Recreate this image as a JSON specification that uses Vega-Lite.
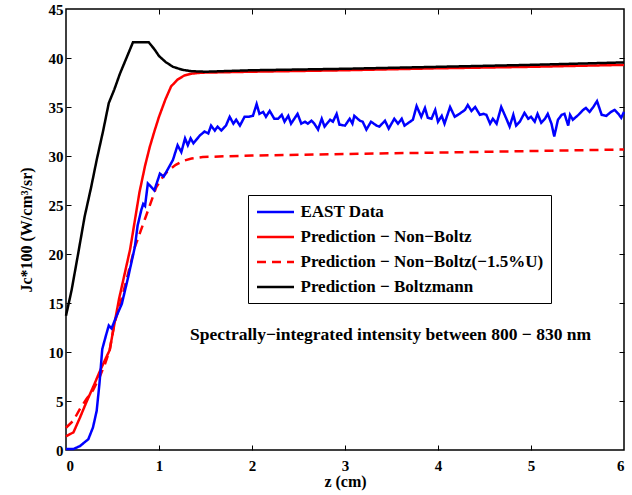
{
  "$schema": "https://vega.github.io/schema/vega-lite/v6.json",
  "width": 558,
  "height": 441,
  "autosize": {"type": "none"},
  "padding": {"left": 66, "top": 9, "right": 8, "bottom": 45},
  "background": "white",
  "config": {
    "view": {"stroke": "black", "strokeWidth": 1.5},
    "font": "Liberation Serif",
    "axis": {
      "domain": false,
      "grid": false,
      "tickColor": "black",
      "tickWidth": 1,
      "labelFont": "Liberation Serif",
      "labelFontSize": 15,
      "labelFontWeight": "bold",
      "labelColor": "black",
      "titleFont": "Liberation Serif",
      "titleFontSize": 16,
      "titleFontWeight": "bold",
      "titleColor": "black"
    },
    "legend": {
      "strokeColor": "black",
      "fillColor": "white",
      "padding": 7.5,
      "cornerRadius": 0,
      "labelFont": "Liberation Serif",
      "labelFontSize": 17,
      "labelFontWeight": "bold",
      "labelColor": "black",
      "labelLimit": 400,
      "symbolType": "M-1,0H3.625",
      "symbolSize": 256,
      "symbolStrokeWidth": 2.5,
      "labelOffset": 26,
      "rowPadding": 7
    }
  },
  "datasets": {
    "lines": [
      {"s":"c","x":0,"y":2.27},{"s":"c","x":0.08,"y":3.0},{"s":"c","x":0.15,"y":4.2},{"s":"c","x":0.22,"y":5.2},{"s":"c","x":0.29,"y":6.1},{"s":"c","x":0.36,"y":7.4},{"s":"c","x":0.42,"y":8.8},{"s":"c","x":0.47,"y":10.2},{"s":"c","x":0.52,"y":12.9},{"s":"c","x":0.58,"y":14.8},{"s":"c","x":0.63,"y":16.6},{"s":"c","x":0.74,"y":20.7},{"s":"c","x":0.85,"y":23.6},{"s":"c","x":0.97,"y":26.8},{"s":"c","x":1.05,"y":28.0},{"s":"c","x":1.11,"y":28.6},{"s":"c","x":1.18,"y":29.1},{"s":"c","x":1.26,"y":29.5},{"s":"c","x":1.35,"y":29.75},{"s":"c","x":1.47,"y":29.9},{"s":"c","x":2,"y":30.05},{"s":"c","x":3,"y":30.2},{"s":"c","x":4,"y":30.35},{"s":"c","x":5,"y":30.5},{"s":"c","x":6,"y":30.66},
      {"s":"b","x":0,"y":1.4},{"s":"b","x":0.08,"y":1.8},{"s":"b","x":0.15,"y":3.3},{"s":"b","x":0.22,"y":4.9},{"s":"b","x":0.3,"y":6.6},{"s":"b","x":0.36,"y":7.95},{"s":"b","x":0.42,"y":9.2},{"s":"b","x":0.47,"y":10.2},{"s":"b","x":0.5,"y":11.8},{"s":"b","x":0.57,"y":15.4},{"s":"b","x":0.69,"y":20.5},{"s":"b","x":0.74,"y":23.4},{"s":"b","x":0.79,"y":26.3},{"s":"b","x":0.85,"y":29.0},{"s":"b","x":0.9,"y":30.9},{"s":"b","x":0.95,"y":32.5},{"s":"b","x":1.0,"y":34.0},{"s":"b","x":1.07,"y":35.8},{"s":"b","x":1.13,"y":37.1},{"s":"b","x":1.2,"y":37.8},{"s":"b","x":1.27,"y":38.2},{"s":"b","x":1.35,"y":38.4},{"s":"b","x":1.45,"y":38.5},{"s":"b","x":2,"y":38.6},{"s":"b","x":3,"y":38.75},{"s":"b","x":4,"y":38.95},{"s":"b","x":5,"y":39.1},{"s":"b","x":6,"y":39.3},
      {"s":"a","x":0,"y":0.1},{"s":"a","x":0.08,"y":0.1},{"s":"a","x":0.15,"y":0.4},{"s":"a","x":0.24,"y":1.1},{"s":"a","x":0.29,"y":2.3},{"s":"a","x":0.33,"y":4.0},{"s":"a","x":0.36,"y":6.8},{"s":"a","x":0.39,"y":10.3},{"s":"a","x":0.43,"y":11.7},{"s":"a","x":0.46,"y":12.7},{"s":"a","x":0.49,"y":12.4},{"s":"a","x":0.54,"y":13.6},{"s":"a","x":0.6,"y":14.9},{"s":"a","x":0.67,"y":17.7},{"s":"a","x":0.74,"y":20.7},{"s":"a","x":0.77,"y":22.9},{"s":"a","x":0.81,"y":24.5},{"s":"a","x":0.83,"y":25.1},{"s":"a","x":0.85,"y":24.9},{"s":"a","x":0.88,"y":27.2},{"s":"a","x":0.95,"y":26.5},{"s":"a","x":1.01,"y":28.2},{"s":"a","x":1.05,"y":27.9},{"s":"a","x":1.08,"y":28.4},{"s":"a","x":1.15,"y":29.6},{"s":"a","x":1.2,"y":31.1},{"s":"a","x":1.24,"y":30.4},{"s":"a","x":1.28,"y":31.8},{"s":"a","x":1.31,"y":31.1},{"s":"a","x":1.34,"y":31.8},{"s":"a","x":1.37,"y":31.3},{"s":"a","x":1.44,"y":32.1},{"s":"a","x":1.49,"y":32.5},{"s":"a","x":1.53,"y":32.3},{"s":"a","x":1.56,"y":33.1},{"s":"a","x":1.6,"y":32.6},{"s":"a","x":1.63,"y":33.0},{"s":"a","x":1.67,"y":32.6},{"s":"a","x":1.72,"y":33.1},{"s":"a","x":1.76,"y":34.0},{"s":"a","x":1.8,"y":33.3},{"s":"a","x":1.83,"y":33.7},{"s":"a","x":1.87,"y":33.1},{"s":"a","x":1.92,"y":34.0},{"s":"a","x":1.96,"y":34.0},{"s":"a","x":2.01,"y":34.1},{"s":"a","x":2.05,"y":35.3},{"s":"a","x":2.08,"y":34.3},{"s":"a","x":2.12,"y":34.5},{"s":"a","x":2.15,"y":34.0},{"s":"a","x":2.19,"y":34.6},{"s":"a","x":2.24,"y":33.8},{"s":"a","x":2.28,"y":33.8},{"s":"a","x":2.32,"y":34.2},{"s":"a","x":2.35,"y":33.5},{"s":"a","x":2.39,"y":34.1},{"s":"a","x":2.42,"y":33.3},{"s":"a","x":2.49,"y":34.3},{"s":"a","x":2.53,"y":33.3},{"s":"a","x":2.57,"y":33.5},{"s":"a","x":2.6,"y":33.3},{"s":"a","x":2.64,"y":33.6},{"s":"a","x":2.67,"y":33.3},{"s":"a","x":2.71,"y":32.7},{"s":"a","x":2.75,"y":33.8},{"s":"a","x":2.78,"y":33.0},{"s":"a","x":2.84,"y":33.7},{"s":"a","x":2.87,"y":33.5},{"s":"a","x":2.91,"y":34.3},{"s":"a","x":2.94,"y":33.2},{"s":"a","x":3.0,"y":33.1},{"s":"a","x":3.05,"y":33.8},{"s":"a","x":3.08,"y":33.3},{"s":"a","x":3.1,"y":34.1},{"s":"a","x":3.16,"y":33.6},{"s":"a","x":3.19,"y":33.5},{"s":"a","x":3.23,"y":32.7},{"s":"a","x":3.28,"y":33.5},{"s":"a","x":3.34,"y":33.1},{"s":"a","x":3.37,"y":33.0},{"s":"a","x":3.43,"y":33.6},{"s":"a","x":3.47,"y":32.8},{"s":"a","x":3.53,"y":33.8},{"s":"a","x":3.57,"y":33.3},{"s":"a","x":3.61,"y":33.8},{"s":"a","x":3.64,"y":33.1},{"s":"a","x":3.7,"y":33.5},{"s":"a","x":3.73,"y":33.7},{"s":"a","x":3.77,"y":35.1},{"s":"a","x":3.82,"y":34.0},{"s":"a","x":3.86,"y":34.9},{"s":"a","x":3.89,"y":33.9},{"s":"a","x":3.93,"y":33.8},{"s":"a","x":3.97,"y":34.7},{"s":"a","x":4.0,"y":33.5},{"s":"a","x":4.04,"y":34.1},{"s":"a","x":4.07,"y":33.3},{"s":"a","x":4.13,"y":35.0},{"s":"a","x":4.18,"y":34.0},{"s":"a","x":4.23,"y":34.3},{"s":"a","x":4.29,"y":34.7},{"s":"a","x":4.32,"y":35.2},{"s":"a","x":4.36,"y":34.6},{"s":"a","x":4.4,"y":35.0},{"s":"a","x":4.45,"y":34.2},{"s":"a","x":4.49,"y":34.3},{"s":"a","x":4.52,"y":34.2},{"s":"a","x":4.56,"y":33.3},{"s":"a","x":4.59,"y":33.8},{"s":"a","x":4.63,"y":33.3},{"s":"a","x":4.68,"y":35.0},{"s":"a","x":4.74,"y":33.7},{"s":"a","x":4.77,"y":33.0},{"s":"a","x":4.81,"y":34.2},{"s":"a","x":4.84,"y":33.1},{"s":"a","x":4.88,"y":33.5},{"s":"a","x":4.93,"y":34.4},{"s":"a","x":4.97,"y":33.8},{"s":"a","x":5.0,"y":34.0},{"s":"a","x":5.04,"y":33.5},{"s":"a","x":5.07,"y":34.3},{"s":"a","x":5.11,"y":33.4},{"s":"a","x":5.15,"y":33.8},{"s":"a","x":5.18,"y":34.3},{"s":"a","x":5.22,"y":33.3},{"s":"a","x":5.25,"y":32.0},{"s":"a","x":5.29,"y":33.7},{"s":"a","x":5.33,"y":34.2},{"s":"a","x":5.36,"y":34.3},{"s":"a","x":5.4,"y":33.1},{"s":"a","x":5.42,"y":34.2},{"s":"a","x":5.45,"y":33.7},{"s":"a","x":5.51,"y":34.2},{"s":"a","x":5.56,"y":34.7},{"s":"a","x":5.59,"y":34.9},{"s":"a","x":5.63,"y":34.5},{"s":"a","x":5.67,"y":35.0},{"s":"a","x":5.71,"y":35.6},{"s":"a","x":5.76,"y":34.2},{"s":"a","x":5.81,"y":34.1},{"s":"a","x":5.86,"y":34.5},{"s":"a","x":5.9,"y":34.7},{"s":"a","x":5.94,"y":34.3},{"s":"a","x":5.97,"y":33.9},{"s":"a","x":6.0,"y":34.5},
      {"s":"d","x":0,"y":13.7},{"s":"d","x":0.03,"y":15.0},{"s":"d","x":0.06,"y":16.3},{"s":"d","x":0.13,"y":20.0},{"s":"d","x":0.2,"y":23.8},{"s":"d","x":0.27,"y":26.8},{"s":"d","x":0.33,"y":29.6},{"s":"d","x":0.4,"y":32.6},{"s":"d","x":0.46,"y":35.4},{"s":"d","x":0.52,"y":36.8},{"s":"d","x":0.58,"y":38.4},{"s":"d","x":0.65,"y":40.0},{"s":"d","x":0.72,"y":41.6},{"s":"d","x":0.89,"y":41.6},{"s":"d","x":0.95,"y":40.9},{"s":"d","x":1.0,"y":40.2},{"s":"d","x":1.07,"y":39.6},{"s":"d","x":1.15,"y":39.1},{"s":"d","x":1.25,"y":38.8},{"s":"d","x":1.35,"y":38.65},{"s":"d","x":1.5,"y":38.6},{"s":"d","x":2,"y":38.75},{"s":"d","x":3,"y":38.9},{"s":"d","x":4,"y":39.1},{"s":"d","x":5,"y":39.3},{"s":"d","x":6,"y":39.55}
    ],
    "note": [
      {"x": 3.49, "y": 11.7, "label": "Spectrally−integrated intensity between 800 − 830 nm"}
    ]
  },
  "layer": [
    {
      "data": {"name": "lines"},
      "mark": {"type": "line", "strokeWidth": 2.5},
      "encoding": {
        "x": {
          "field": "x", "type": "quantitative",
          "scale": {"domain": [0, 6], "nice": false, "zero": false},
          "axis": {"values": [0, 1, 2, 3, 4, 5, 6], "title": "z (cm)", "ticks": false, "labelPadding": 8, "titlePadding": 0}
        },
        "y": {
          "field": "y", "type": "quantitative",
          "scale": {"domain": [0, 45], "nice": false},
          "axis": {"values": [0, 5, 10, 15, 20, 25, 30, 35, 40, 45], "title": "Jc*100 (W/cm³/sr)", "ticks": false, "labelPadding": 3, "titlePadding": 14}
        },
        "color": {
          "field": "s", "type": "nominal",
          "scale": {"domain": ["a", "b", "c", "d"], "range": ["#0000ff", "#ff0000", "#ff0000", "#000000"]},
          "legend": {"title": null, "orient": "none", "legendX": 182, "legendY": 186,
            "labelExpr": "datum.value == 'a' ? 'EAST Data' : datum.value == 'b' ? 'Prediction − Non−Boltz' : datum.value == 'c' ? 'Prediction − Non−Boltz(−1.5%U)' : 'Prediction − Boltzmann'"}
        },
        "strokeDash": {
          "field": "s", "type": "nominal",
          "scale": {"domain": ["a", "b", "c", "d"], "range": [[1, 0], [1, 0], [9, 6], [1, 0]]},
          "legend": {"title": null, "orient": "none", "legendX": 182, "legendY": 186,
            "labelExpr": "datum.value == 'a' ? 'EAST Data' : datum.value == 'b' ? 'Prediction − Non−Boltz' : datum.value == 'c' ? 'Prediction − Non−Boltz(−1.5%U)' : 'Prediction − Boltzmann'"}
        }
      }
    },
    {
      "data": {"name": "note"},
      "mark": {"type": "text", "font": "Liberation Serif", "fontSize": 17.5, "fontWeight": "bold", "color": "black"},
      "encoding": {
        "x": {"field": "x", "type": "quantitative", "axis": {"orient": "top", "values": [1, 2, 3, 4, 5], "labels": false, "title": null, "tickSize": 5, "offset": -5}},
        "y": {"field": "y", "type": "quantitative", "axis": {"orient": "right", "values": [5, 10, 15, 20, 25, 30, 35, 40], "labels": false, "title": null, "tickSize": 5, "offset": -5}},
        "text": {"field": "label"}
      }
    },
    {
      "data": {"name": "note"},
      "mark": {"type": "point", "opacity": 0},
      "encoding": {
        "x": {"field": "x", "type": "quantitative", "axis": {"orient": "bottom", "values": [1, 2, 3, 4, 5], "labels": false, "title": null, "tickSize": 5, "offset": -5}},
        "y": {"field": "y", "type": "quantitative", "axis": {"orient": "left", "values": [5, 10, 15, 20, 25, 30, 35, 40], "labels": false, "title": null, "tickSize": 5, "offset": -5}}
      }
    }
  ],
  "resolve": {"axis": {"x": "independent", "y": "independent"}}
}
